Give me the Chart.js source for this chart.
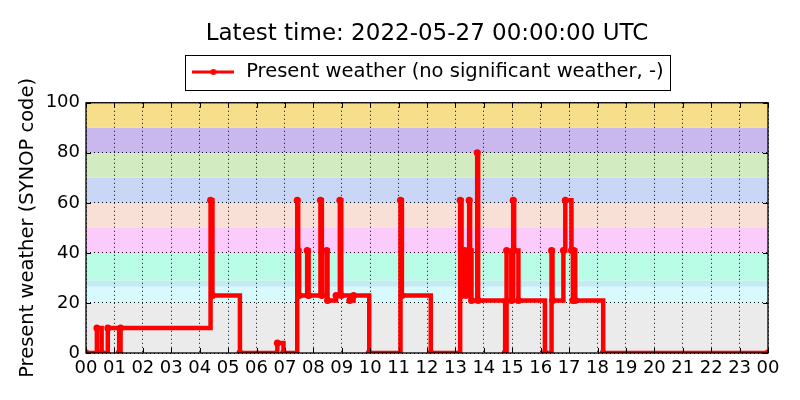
<!DOCTYPE html>
<html>
<head>
<meta charset="utf-8">
<script src="https://cdn.jsdelivr.net/npm/chart.js@4/dist/chart.umd.min.js"></script>
<style>
  html, body { margin: 0; padding: 0; background: #fff; }
  #wrap { width: 800px; height: 400px; }
</style>
</head>
<body>
<div id="wrap"><canvas id="grafico" width="800" height="400"></canvas></div>
<script>
// observation times (UTC) and present weather SYNOP code
const times = ['00:00', '00:23', '00:33', '00:46', '01:10', '01:13', '04:23', '04:27', '05:25', '06:44',
  '06:57', '07:26', '07:28', '07:30', '07:47', '07:50', '08:15', '08:18', '08:28', '08:30',
  '08:48', '08:56', '08:59', '09:17', '09:25', '09:58', '11:04', '11:07', '12:08', '13:10',
  '13:13', '13:20', '13:23', '13:29', '13:31', '13:34', '13:46', '13:48', '14:45', '14:48',
  '14:58', '15:02', '15:04', '15:13', '16:09', '16:23', '16:25', '16:48', '16:52', '17:05',
  '17:08', '17:10', '17:13', '18:12', '24:00'];
const codes = [0, 10, 0, 10, 0, 10, 61, 23, 0, 4,
  0, 61, 41, 23, 41, 23, 61, 23, 41, 21,
  23, 61, 23, 21, 23, 0, 61, 23, 0, 61,
  23, 41, 23, 61, 41, 21, 80, 21, 0, 41,
  21, 61, 41, 21, 0, 41, 21, 41, 61, 41,
  21, 41, 21, 0, 0];

// hour ticks along the x axis
const hourTicks = [0, 1, 2, 3, 4, 5, 6, 7, 8, 9, 10, 11, 12, 13, 14, 15, 16, 17, 18, 19, 20, 21, 22, 23, 24];

// background bands of SYNOP code groups
const bandFrom = [0, 20, 26.5, 29, 40, 50, 60, 70, 80, 90];
const bandTo = [20, 26.5, 29, 40, 50, 60, 70, 80, 90, 100];
const bandColors = ['#ebebeb', '#d9fafd', '#c4eaf3', '#bafde6', '#fbcbfb', '#f9e0d7', '#c9d6f5', '#d2ebc0', '#c9b8ed', '#f7de8b'];

const titulo = 'Latest time: 2022-05-27 00:00:00 UTC';
const rotulo = 'Present weather (no significant weather, -)';

function horas(t) {
    const p = t.split(':');
    return Number(p[0]) + Number(p[1]) / 60;
}

const pontos = times.map((t, i) => ({x: horas(t), y: codes[i]}));

// little line + dot for the legend, like matplotlib
const iconeLegenda = document.createElement('canvas');
iconeLegenda.width = 42;
iconeLegenda.height = 10;
(function () {
    const c = iconeLegenda.getContext('2d');
    c.strokeStyle = '#ff0000';
    c.lineWidth = 3;
    c.beginPath();
    c.moveTo(0, 5);
    c.lineTo(42, 5);
    c.stroke();
    c.fillStyle = '#ff0000';
    c.beginPath();
    c.arc(21, 5, 3, 0, Math.PI * 2);
    c.fill();
})();

const moldura = {
    id: 'moldura',
    beforeDraw(chart) {
        const {ctx, chartArea: a, scales: {y}} = chart;
        ctx.save();
        for (let i = 0; i < bandFrom.length; i++) {
            const topo = y.getPixelForValue(bandTo[i]);
            const base = y.getPixelForValue(bandFrom[i]);
            ctx.fillStyle = bandColors[i];
            ctx.fillRect(a.left, topo, a.right - a.left, base - topo);
        }
        ctx.restore();
    },
    afterDatasetsDraw(chart) {
        const {ctx, chartArea: a, scales: {x, y}} = chart;
        ctx.save();
        ctx.strokeStyle = '#000';
        ctx.lineWidth = 1;
        ctx.beginPath();
        x.ticks.forEach(t => {
            const px = Math.round(x.getPixelForValue(t.value)) + 0.5;
            ctx.moveTo(px, a.bottom);
            ctx.lineTo(px, a.bottom - 5);
            ctx.moveTo(px, a.top);
            ctx.lineTo(px, a.top + 5);
        });
        y.ticks.forEach(t => {
            const py = Math.round(y.getPixelForValue(t.value)) + 0.5;
            ctx.moveTo(a.left, py);
            ctx.lineTo(a.left + 5, py);
            ctx.moveTo(a.right, py);
            ctx.lineTo(a.right - 5, py);
        });
        ctx.stroke();
        ctx.lineWidth = 1.3;
        ctx.strokeRect(a.left, a.top, a.right - a.left, a.bottom - a.top);
        ctx.restore();
    },
    afterDraw(chart) {
        const hb = chart.legend && chart.legend.legendHitBoxes[0];
        if (!hb) return;
        const ctx = chart.ctx;
        const meio = hb.top + hb.height / 2;
        ctx.save();
        ctx.strokeStyle = '#000';
        ctx.lineWidth = 1;
        ctx.strokeRect(Math.round(hb.left - 5) + 0.5, Math.round(meio - 17.5) + 0.5,
            Math.round(hb.width + 12), 35);
        ctx.restore();
    }
};

Chart.defaults.font.family = "'DejaVu Sans', sans-serif";
Chart.defaults.color = '#000';

const ctx = document.getElementById('grafico').getContext('2d');
const grafico = new Chart(ctx, {
    type: 'line',
    data: {
        datasets: [{
            label: rotulo,
            data: pontos,
            stepped: 'before',
            borderColor: '#ff0000',
            backgroundColor: '#ff0000',
            borderWidth: 4.5,
            pointRadius: 3.5,
            pointBorderWidth: 0,
            pointBackgroundColor: '#ff0000',
            fill: false
        }]
    },
    options: {
        responsive: false,
        animation: false,
        devicePixelRatio: 1,
        layout: {padding: {left: 0, right: 32, top: 0, bottom: 0}},
        plugins: {
            title: {
                display: true,
                text: titulo,
                fullSize: false,
                font: {size: 23, weight: 'normal'},
                padding: {top: 20, bottom: 4.65}
            },
            subtitle: {
                display: true,
                text: '',
                weight: 500,
                fullSize: false,
                font: {size: 1, lineHeight: 1},
                padding: {top: 0, bottom: 10}
            },
            legend: {
                display: true,
                fullSize: false,
                labels: {
                    font: {size: 19.5},
                    padding: 10,
                    usePointStyle: true,
                    pointStyleWidth: 46,
                    generateLabels(chart) {
                        const itens = Chart.defaults.plugins.legend.labels.generateLabels(chart);
                        itens.forEach(it => { it.pointStyle = iconeLegenda; });
                        return itens;
                    }
                }
            },
            tooltip: {enabled: false}
        },
        scales: {
            x: {
                type: 'linear',
                min: 0,
                max: 24,
                afterBuildTicks(scale) {
                    scale.ticks = hourTicks.map(v => ({value: v}));
                },
                afterFit(scale) { scale.height = 47; },
                ticks: {
                    autoSkip: false,
                    maxRotation: 0,
                    padding: 5,
                    font: {size: 18},
                    callback: v => String(v % 24).padStart(2, '0')
                },
                grid: {color: '#000', lineWidth: 1, drawTicks: false},
                border: {display: false, dash: [1, 3]}
            },
            y: {
                min: 0,
                max: 100,
                afterFit(scale) { scale.width = 86; },
                ticks: {stepSize: 20, padding: 6, font: {size: 18}},
                grid: {color: '#000', lineWidth: 1, drawTicks: false},
                border: {display: false, dash: [1, 3]},
                title: {
                    display: true,
                    text: 'Present weather (SYNOP code)',
                    font: {size: 19.5},
                    padding: {top: 16, bottom: 0}
                }
            }
        }
    },
    plugins: [moldura]
});
</script>
</body>
</html>
